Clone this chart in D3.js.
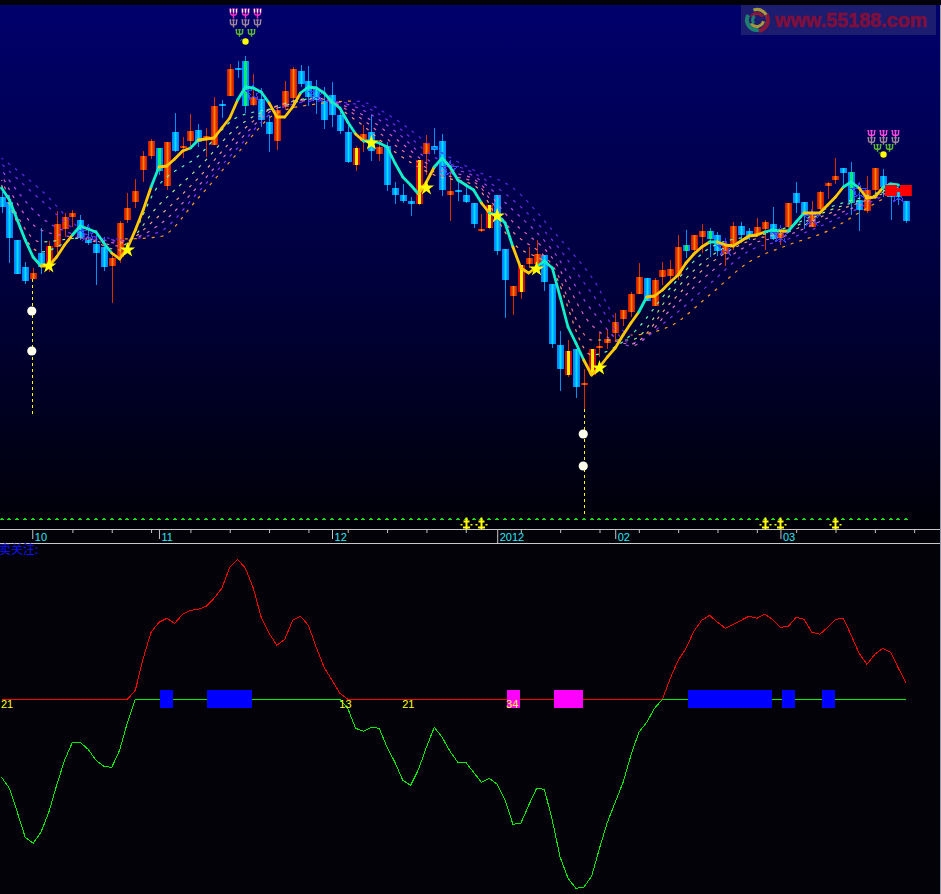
<!DOCTYPE html>
<html><head><meta charset="utf-8">
<style>html,body{margin:0;padding:0;background:#020208;overflow:hidden}svg{display:block}text{font-family:"Liberation Sans",sans-serif}</style>
<script src="https://cdnjs.cloudflare.com/ajax/libs/d3/7.8.5/d3.min.js"></script>
</head><body><svg id="c" width="941" height="894"></svg>
<script>
// --- candles (price units)
const open=[323,318,280,253,241,267,257,273,291,303,300,280,276,273,254,263,300,318,350,364,372,334,388,372,379,390,382,375,416,424,452,459,415,421,398,379,413,422,449,439,431,419,425,405,388,355,379,388,366,374,332,325,319,316,366,374,379,325,330,325,317,289,292,325,271,224,228,256,256,265,236,175,145,171,136,145,173,177,187,201,208,226,242,214,243,244,244,275,270,283,289,285,266,275,294,289,285,291,296,282,293,327,318,293,311,334,340,352,348,320,309,330,344,337,328,319];
const close=[313,282,246,239,247,253,274,296,303,307,282,277,267,253,262,297,312,329,364,379,349,378,369,374,389,378,384,414,414,451,451,414,423,400,386,410,429,451,436,423,420,400,405,389,358,372,386,369,373,335,325,319,316,360,377,370,330,329,328,318,296,291,315,269,240,234,255,262,266,238,176,151,169,133,137,171,174,181,198,210,226,243,219,240,250,251,273,269,285,289,281,269,274,294,285,284,293,298,281,287,317,317,304,306,328,337,344,347,317,310,330,352,333,323,323,299];
const high=[328,325,280,258,252,292,279,309,307,310,305,292,285,283,267,299,327,341,369,381,372,378,407,383,406,396,392,423,420,456,459,464,446,432,405,414,439,453,455,454,440,433,438,413,395,374,395,405,380,378,338,336,323,360,385,392,386,350,341,335,317,306,315,325,271,234,255,273,280,265,236,189,180,171,151,171,187,191,207,210,228,257,242,242,258,260,285,290,285,296,292,288,279,298,298,292,302,300,313,290,317,338,318,319,329,338,362,352,358,330,344,352,351,337,335,319];
const low=[307,257,246,236,241,246,248,267,283,293,280,275,235,249,217,257,297,312,338,361,345,330,368,362,372,373,363,375,402,424,442,407,414,393,368,370,411,415,433,414,406,391,393,386,357,349,368,359,359,329,316,317,304,315,345,366,324,299,319,317,292,288,291,265,202,205,221,252,255,229,172,129,143,122,111,145,163,171,178,194,203,226,219,214,235,240,240,262,268,267,263,264,254,270,280,280,283,270,280,275,292,307,291,293,310,321,336,333,305,289,307,325,323,300,315,297];
const yellowCore=[6,45,53,62,66,72,75];
const greenCore=[20,31,87,90,108];
// --- thick trend line and its state (1 rising colour, 0 falling colour)
const trend=[332,320,300,280,263,254,254,263,275,285,294,291,288,277,267,261,272,290,310,333,353,354,361,369,372,380,381,382,392,402,420,433,432,428,417,403,403,413,427,433,432,427,418,412,398,386,379,379,377,373,357,343,335,326,338,353,362,353,340,335,330,317,307,305,297,273,252,247,253,259,252,223,193,177,160,145,153,163,172,185,197,208,223,224,230,238,245,257,266,273,278,278,275,274,279,284,285,288,290,289,289,298,307,307,307,315,323,333,338,332,322,323,332,336,335];
const trendState=[0,0,0,0,0,1,1,1,1,0,0,0,0,0,1,1,1,1,1,0,1,1,1,1,0,1,1,1,1,1,0,0,0,0,1,1,1,1,0,0,0,0,0,0,0,1,0,0,0,0,0,0,0,1,1,0,0,0,0,0,0,1,0,0,0,1,1,1,0,0,0,0,0,0,1,1,1,1,1,1,1,0,1,1,1,1,1,1,1,1,0,1,1,1,1,1,1,0,0,1,0,0,1,1,1,1,1,0,0,1,1,1,0,0];
// --- six dashed averages, read at every fifth bar
const maBars=[0,5,10,15,20,25,30,35,40,45,50,55,60,65,70,75,80,85,90,95,100,105,110,114];
const ma1=[335,268,282,270,335,364,403,412,422,400,368,345,335,277,250,165,185,232,272,284,293,312,324,334];
const ma2=[340,278,282,274,315,352,393,414,422,405,375,348,338,288,255,180,180,225,263,282,291,309,322,334];
const ma3=[345,290,282,277,304,342,385,414,421,409,382,352,341,298,262,195,176,217,256,279,288,306,320,333];
const ma4=[350,303,284,279,295,334,378,412,420,413,389,356,344,310,270,210,174,210,247,275,285,302,318,333];
const ma5=[356,320,288,280,288,328,372,410,419,416,395,363,347,320,280,227,177,202,236,269,281,297,316,332];
const ma6=[362,330,292,281,283,322,367,407,416,419,401,372,350,332,290,243,185,194,225,258,275,289,312,330];
// --- markers
const starBars=[6,16,47,54,63,68,76];
const starLevels=[254,270,377,332,304,251,152];
const hollowBars=[11,32,40,57,92,99,103,109,114];
const hollowLevels=[287,427,426,351,272,285,302,329,325];
const signalBars=[31,112];
const dropBars=[3.9,74];
const dropTop=[241,111];
const dropBottom=[105,3];
const dotsA=[209,86];
const dotsB=[169,54];
const anchorBars=[59,61,97,99,106];
// --- time axis
const minorBars=[9,14,19,24,29,34,39,44,49,54,59,66,71,76,81,86,91,96,101,106,111,116];
const majorBars=[3.9,20,42,63,78,99];
const majorLabels=["10","11","12","2012","02","03"];
// --- lower panel
const osc=[-78,-89,-113,-138,-144,-133,-113,-86,-61,-43,-43,-50,-61,-67,-68,-51,-23,9,41,67,77,81,76,85,89,90,93,101,111,132,140,131,111,82,66,54,60,79,83,74,52,32,19,6,-9,-29,-32,-28,-29,-48,-63,-81,-86,-70,-48,-28,-38,-52,-63,-63,-73,-83,-79,-85,-101,-125,-124,-106,-89,-90,-121,-158,-179,-189,-188,-177,-149,-123,-103,-83,-56,-33,-23,-9,0,21,39,51,68,79,84,77,71,75,79,83,81,85,80,72,73,82,80,67,65,72,80,81,64,46,35,45,51,47,31,16];
const blueFrom=[20.1,26.1,87.25,99.2,104.3];
const blueTo=[21.8,31.8,97.9,100.9,105.9];
const pinkFrom=[64.2,70.2];
const pinkTo=[65.9,73.9];
const countBars=[0,43,51,64.2];
const countLabels=["21","13","21","34"];

const svg=d3.select("#c");
const x=d3.scaleLinear().domain([0,115]).range([1.6,906.3]);
const y=d3.scaleLinear().domain([0,520]).range([520,0]);
const yo=d3.scaleLinear().domain([0,150]).range([699.3,549.3]);
const defs=svg.append("defs");
function grad(id,stops,attrs){const g=defs.append("linearGradient").attr("id",id);Object.entries(attrs).forEach(([k,v])=>g.attr(k,v));stops.forEach(s=>g.append("stop").attr("offset",s[0]).attr("stop-color",s[1]));}
grad("bg",[[0,"#00006c"],[0.55,"#00003a"],[1,"#000006"]],{x1:0,y1:0,x2:0,y2:1});
grad("red",[[0,"#c81400"],[0.3,"#e83800"],[0.5,"#ff8400"],[0.7,"#e83800"],[1,"#c81400"]],{x1:0,y1:0,x2:1,y2:0});
grad("blue",[[0,"#0080ff"],[0.25,"#0098ff"],[0.5,"#00e0ff"],[0.75,"#0098ff"],[1,"#0080ff"]],{x1:0,y1:0,x2:1,y2:0});

svg.append("rect").attr("width",941).attr("height",894).attr("fill","#020208");
svg.append("rect").attr("y",5).attr("width",941).attr("height",524).attr("fill","url(#bg)");

// watermark
const wm=svg.append("g");
wm.append("rect").attr("x",741).attr("y",5).attr("width",195).attr("height",30).attr("fill","#1c1c70");
const arc=d3.arc();
const deg=Math.PI/180;
[[12,9,-20,110,"#a8983c"],[13,9,60,170,"#8a1838"],[12,8,170,300,"#1f7e70"],[8,5,300,420,"#8a1838"],[8,5,100,240,"#a8983c"],[6,3,220,330,"#1f7e70"]].forEach(a=>{
  wm.append("path").attr("transform","translate(757,20)").attr("d",arc({innerRadius:a[1],outerRadius:a[0],startAngle:a[2]*deg,endAngle:a[3]*deg})).attr("fill",a[4]);
});
wm.append("text").attr("x",775).attr("y",27).attr("font-size",19.8).attr("font-weight","bold").attr("fill","#7e0f3c").attr("stroke","#7e0f3c").attr("stroke-width",.6).text("www.55188.com");

// candles
const W=7;
const bars=d3.range(open.length).map(i=>({i,o:open[i],c:close[i],h:high[i],l:low[i],up:close[i]>open[i]}));
const cg=svg.append("g");
cg.selectAll("line").data(bars).join("line").attr("x1",d=>Math.round(x(d.i))+.5).attr("x2",d=>Math.round(x(d.i))+.5)
 .attr("y1",d=>y(d.h)).attr("y2",d=>y(d.l)).attr("stroke",d=>d.up?"#d82c00":"#0090f0").attr("shape-rendering","crispEdges");
cg.selectAll("rect.b").data(bars).join("rect").attr("class","b").attr("x",d=>Math.round(x(d.i))-3).attr("width",W)
 .attr("y",d=>y(Math.max(d.o,d.c))).attr("height",d=>Math.max(2,Math.abs(d.o-d.c))).attr("fill",d=>yellowCore.includes(d.i)?"#d00808":d.up?"url(#red)":"url(#blue)").attr("shape-rendering","crispEdges");
cg.selectAll("rect.k").data(bars.filter(d=>yellowCore.includes(d.i)||greenCore.includes(d.i))).join("rect").attr("class","k")
 .attr("x",d=>Math.round(x(d.i))-1).attr("width",3).attr("y",d=>y(Math.max(d.o,d.c))).attr("height",d=>Math.abs(d.o-d.c))
 .attr("fill",d=>yellowCore.includes(d.i)?"#ffee00":"#00f070").attr("shape-rendering","crispEdges");

// dashed averages, coloured by direction through stepped horizontal gradients
const maSets=[ma1,ma2,ma3,ma4,ma5,ma6];
const maRise=["#60ffb0","#a8e880","#f0a080","#e070c8","#8030ff","#ff9820"];
const maFall=["#ff9870","#f07098","#e060c8","#a840f0","#7028f0","#5828e8"];
const maLine=d3.line().x((d,i)=>x(maBars[i])).y(d=>y(d)).curve(d3.curveMonotoneX);
maSets.forEach((vals,k)=>{
  const g=defs.append("linearGradient").attr("id","ma"+k).attr("gradientUnits","userSpaceOnUse").attr("x1",x(0)).attr("x2",x(114)).attr("y1",0).attr("y2",0);
  const span=x(114)-x(0);
  for(let j=0;j<vals.length-1;j++){
    const col=vals[j+1]>=vals[j]?maRise[k]:maFall[k];
    g.append("stop").attr("offset",(x(maBars[j])-x(0))/span).attr("stop-color",col);
    g.append("stop").attr("offset",(x(maBars[j+1])-x(0))/span).attr("stop-color",col);
  }
  svg.append("path").attr("d",maLine(vals)).attr("fill","none").attr("stroke",`url(#ma${k})`).attr("stroke-width",1.2).attr("stroke-dasharray","3 6").attr("stroke-dashoffset",k*2);
});

// hollow blue marks
const sym=d3.symbol().type(d3.symbolStar);
svg.selectAll("path.h").data(hollowBars).join("path").attr("class","h").attr("transform",(d,i)=>`translate(${x(d)},${y(hollowLevels[i])})`)
 .attr("d",sym.size(80)()).attr("fill","none").attr("stroke","#3c40ff").attr("stroke-width",1).attr("shape-rendering","crispEdges");

// thick trend line
const seg=d3.line().x(d=>x(d[0])).y(d=>y(d[1]));
const tg=svg.append("g").attr("fill","none").attr("stroke-width",2.8).attr("stroke-linecap","round");
trendState.forEach((s,i)=>{tg.append("path").attr("d",seg([[i,trend[i]],[i+1,trend[i+1]]])).attr("stroke",s?"#ffc800":"#10f0c8");});

// yellow stars
svg.selectAll("path.s").data(starBars).join("path").attr("class","s").attr("transform",(d,i)=>`translate(${x(d)},${y(starLevels[i])})`)
 .attr("d",d3.symbol().type(d3.symbolStar).size(72)()).attr("fill","#ffff00");

// drop lines and white dots
dropBars.forEach((b,i)=>{
  svg.append("line").attr("x1",Math.round(x(b))+.5).attr("x2",Math.round(x(b))+.5).attr("y1",y(dropTop[i])).attr("y2",y(dropBottom[i])).attr("stroke","#ffff00").attr("stroke-dasharray","3 3").attr("shape-rendering","crispEdges");
  [dotsA[i],dotsB[i]].forEach(v=>svg.append("circle").attr("cx",x(b)-.5).attr("cy",y(v)).attr("r",4.6).attr("fill","#ffffee"));
});

// tridents
function psi(h){const t=-h/2;return `M-4,${t}H-3V${t+h*.45}Q-3,${t+h*.7} 0,${t+h*.7}Q3,${t+h*.7} 3,${t+h*.45}V${t}H4M0,${t-.5}V${t+h+.5}M-1.2,${t}H1.2`;}
const rowOff=[[28,18,8.5],[20.5,13.5,6.5]];
const rowH=[[9,7,6.5],[6.5,6.5,6.5]];
signalBars.forEach((b,n)=>{
  const cx=Math.round(x(b))+.5, cy=y(high[b])-14.5;
  const g=svg.append("g").attr("fill","none").attr("stroke-width",1.4);
  [-12,0,12].forEach(o=>{
    g.append("path").attr("transform",`translate(${cx+o},${cy-rowOff[n][0]})`).attr("d",psi(rowH[n][0])).attr("stroke",n?"#ff48e0":"#ff30c8");
    if(!n)g.append("path").attr("transform",`translate(${cx+o},${cy-rowOff[n][0]-1})`).attr("d",`M-3,-3.5V0M0,-3.5V0M3,-3.5V0`).attr("stroke","#fff0ff");
    g.append("path").attr("transform",`translate(${cx+o},${cy-rowOff[n][1]})`).attr("d",psi(rowH[n][1])).attr("stroke","#a08898");
  });
  [-6,6].forEach(o=>g.append("path").attr("transform",`translate(${cx+o},${cy-rowOff[n][2]})`).attr("d",psi(rowH[n][2])).attr("stroke","#60b830"));
  svg.append("circle").attr("cx",cx).attr("cy",cy).attr("r",3.2).attr("fill","#ffff00");
  svg.append("path").attr("d",`M${cx-5},${cy-1}q1,-1 2,-1`).attr("stroke","#30c030").attr("fill","none");
});

// red stop block
[[112.3,113.8],[114.2,115.7]].forEach(s=>svg.append("rect").attr("x",x(s[0])).attr("width",x(s[1])-x(s[0])).attr("y",y(335)).attr("height",11).attr("fill","#ff0000"));
svg.append("rect").attr("x",x(113.8)).attr("width",x(114.2)-x(113.8)).attr("y",y(332)).attr("height",4).attr("fill","#ff0000");

// green carets and anchors
svg.append("g").selectAll("path").data(bars).join("path").attr("transform",d=>`translate(${Math.round(x(d.i))},519)`)
 .attr("d","M-1.5,1L0,-.5L1.5,1").attr("fill","none").attr("stroke","#10e010").attr("shape-rendering","crispEdges");
svg.append("g").selectAll("path").data(anchorBars).join("path").attr("transform",d=>`translate(${Math.round(x(d))+.5},0)`)
 .attr("d","M0,517.5V529M-3,521.5H3M-5,524V525.5M5,524V525.5M-3.5,527.5H3.5").attr("fill","none").attr("stroke","#ffff00").attr("stroke-width",2);

// time axis
svg.append("rect").attr("y",529).attr("width",941).attr("height",14).attr("fill","#020208");
svg.append("line").attr("x1",0).attr("x2",941).attr("y1",529.5).attr("y2",529.5).attr("stroke","#c8c8c8");
svg.append("line").attr("x1",0).attr("x2",941).attr("y1",543.5).attr("y2",543.5).attr("stroke","#c8c8c8");
const minorAxis=d3.axisBottom(x).tickValues(minorBars).tickSize(3).tickFormat("");
const ma=svg.append("g").attr("transform","translate(0,530)").call(minorAxis);
ma.select(".domain").remove();ma.selectAll("line").attr("stroke","#c8c8c8");
const majorAxis=d3.axisBottom(x).tickValues(majorBars).tickSize(9).tickFormat((d,i)=>majorLabels[i]);
const mj=svg.append("g").attr("transform","translate(0,530)").call(majorAxis);
mj.select(".domain").remove();mj.selectAll("line").attr("stroke","#c8c8c8");
mj.selectAll("line").filter((d,i)=>majorLabels[i]==="2012").attr("y2",13);
mj.selectAll("text").attr("x",2).attr("y",10.5).attr("dy",0).attr("text-anchor","start").attr("fill","#28e8f8").attr("font-size",11).style("font-family","'Liberation Sans',sans-serif");

// lower panel
svg.append("text").attr("x",-1).attr("y",554).attr("fill","#1010ff").attr("font-size",12).style("font-family","'Noto Sans CJK SC'").text("卖关注:");
const oline=d3.line().x((d,i)=>x(i)).y(d=>yo(d));
svg.append("path").attr("d",oline(osc.map(v=>Math.max(v,0)))).attr("fill","none").attr("stroke","#ff0000").attr("stroke-width",1).attr("shape-rendering","crispEdges");
svg.append("path").attr("d",oline(osc.map(v=>Math.min(v,0)))).attr("fill","none").attr("stroke","#00f000").attr("stroke-width",1).attr("shape-rendering","crispEdges");
blueFrom.forEach((b,i)=>svg.append("rect").attr("x",x(b)).attr("width",x(blueTo[i])-x(b)).attr("y",yo(9)).attr("height",yo(-9)-yo(9)).attr("fill","#0000ff").attr("shape-rendering","crispEdges"));
pinkFrom.forEach((b,i)=>svg.append("rect").attr("x",x(b)).attr("width",x(pinkTo[i])-x(b)).attr("y",yo(9)).attr("height",yo(-9)-yo(9)).attr("fill","#ff00ff").attr("shape-rendering","crispEdges"));
svg.selectAll("text.cnt").data(countBars).join("text").attr("class","cnt").attr("x",d=>x(d)-.6).attr("y",707.5).attr("fill","#ffff20").attr("font-size",11).text((d,i)=>countLabels[i]);

// right edge
svg.append("rect").attr("x",940).attr("y",5).attr("width",1).attr("height",889).attr("fill","#9a9aa8");
</script></body></html>
